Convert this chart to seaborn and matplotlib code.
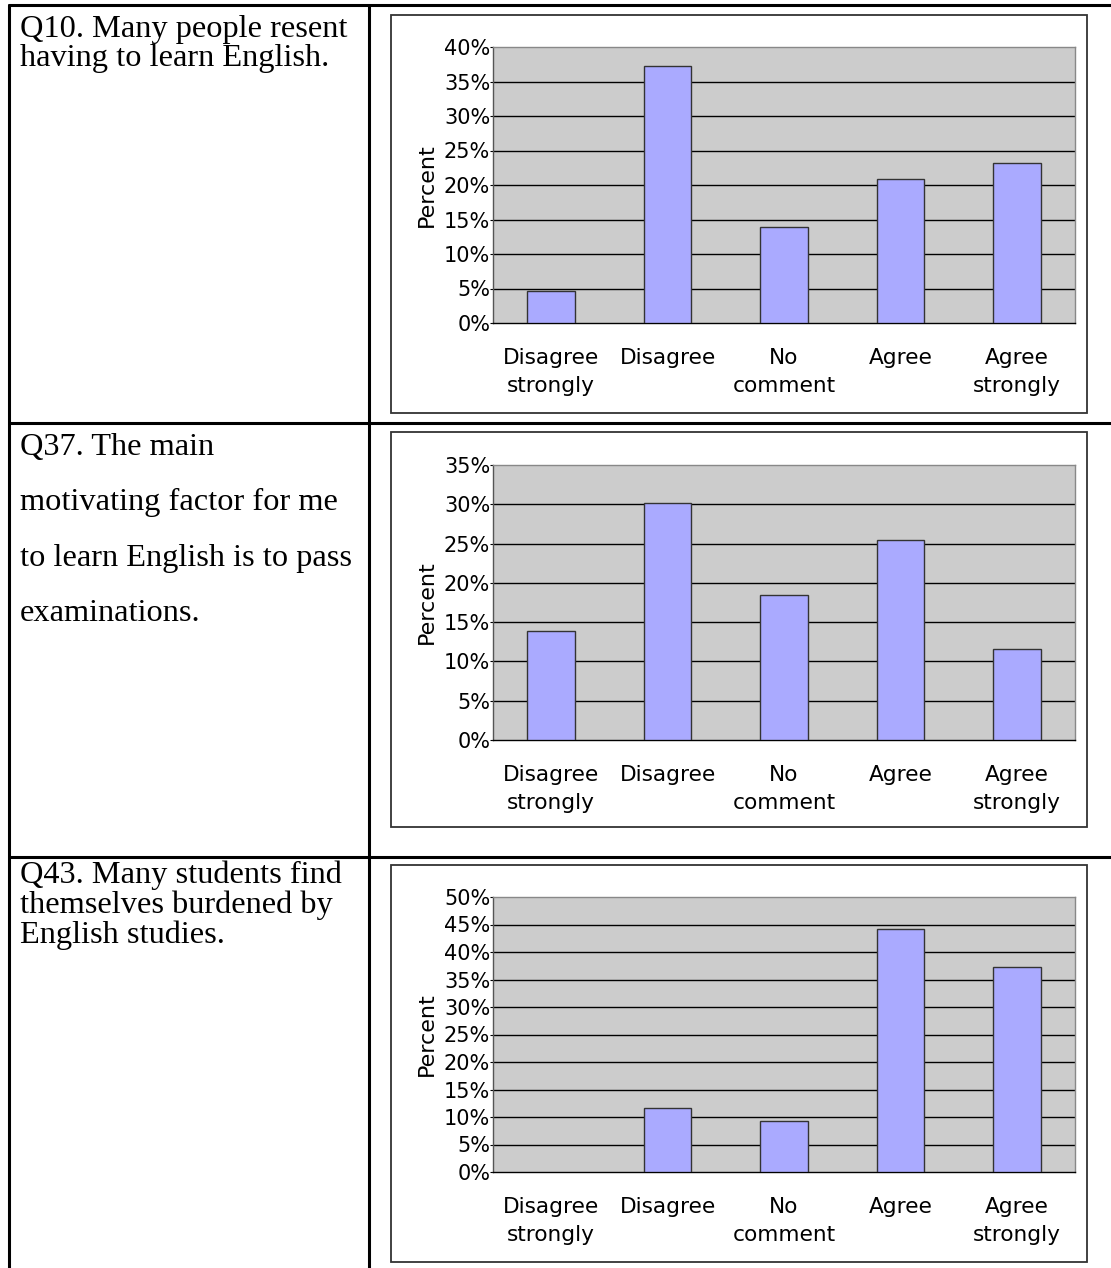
import matplotlib
matplotlib.use("Agg")
import matplotlib.pyplot as plt
from matplotlib.lines import Line2D
from matplotlib.patches import Rectangle
from matplotlib.ticker import FuncFormatter, FixedLocator
import pandas as pd
import seaborn as sns

# survey data (percent)
categories = ["Disagree\nstrongly", "Disagree", "No\ncomment", "Agree", "Agree\nstrongly"]
q10_values = [4.6, 37.2, 13.9, 20.9, 23.2]
q37_values = [13.9, 30.2, 18.5, 25.5, 11.6]
q43_values = [0.0, 11.6, 9.2, 44.1, 37.2]

questions = [
    "Q10. Many people resent\nhaving to learn English.",
    "Q37. The main\nmotivating factor for me\nto learn English is to pass\nexaminations.",
    "Q43. Many students find\nthemselves burdened by\nEnglish studies.",
]
y_max = [40, 35, 50]

sns.set_style("white")
plt.rcParams["font.family"] = ["DejaVu Sans"]
plt.rcParams["text.color"] = "black"
plt.rcParams["xtick.color"] = "black"
plt.rcParams["ytick.color"] = "black"
plt.rcParams["axes.labelcolor"] = "black"

W, H = 1111, 1268
fig = plt.figure(figsize=(W / 100, H / 100), dpi=100)
fig.patch.set_facecolor("white")


def fx(px):
    return px / W


def fy(py):
    return 1 - py / H


# table grid
tbl = dict(color="black", lw=2.2, transform=fig.transFigure)
fig.add_artist(Line2D([fx(9), 1], [fy(5), fy(5)], **tbl))
fig.add_artist(Line2D([fx(9), fx(9)], [fy(5), 0], **tbl))
fig.add_artist(Line2D([fx(369), fx(369)], [fy(5), 0], **tbl))
fig.add_artist(Line2D([fx(9), 1], [fy(423), fy(423)], **tbl))
fig.add_artist(Line2D([fx(9), 1], [fy(857), fy(857)], **tbl))

# question text
serif = dict(family="Liberation Serif", fontsize=23.3, va="top", ha="left", color="black")
fig.text(fx(20), fy(15), questions[0], linespacing=1.0, **serif)
fig.text(fx(20), fy(433), questions[1], linespacing=2.2, **serif)
fig.text(fx(20), fy(861), questions[2], linespacing=1.0, **serif)

boxes = [(15, 413), (432, 827), (865, 1262)]
plots = [(47, 323), (465, 740), (897, 1172)]
all_values = [q10_values, q37_values, q43_values]

for (bt, bb), (pt, pb), vals, ym in zip(boxes, plots, all_values, y_max):
    fig.add_artist(Rectangle((fx(391), fy(bb)), fx(1087) - fx(391), fy(bt) - fy(bb),
                             transform=fig.transFigure, fill=False,
                             edgecolor="#333333", lw=1.3))
    ax = fig.add_axes([fx(493), fy(pb), fx(1075) - fx(493), fy(pt) - fy(pb)])
    df = pd.DataFrame({"answer": categories, "pct": vals})
    sns.barplot(data=df, x="answer", y="pct", ax=ax, color="#AAAAFF",
                saturation=1, width=0.41, edgecolor="#333333", linewidth=1.0, zorder=3)
    for bar in ax.patches:
        if bar.get_height() == 0:
            bar.set_visible(False)
    ax.set_facecolor("#CCCCCC")
    ax.set_ylim(0, ym)
    ax.set_xlim(-0.5, 4.5)
    ax.set_yticks(range(0, ym + 1, 5))
    ax.yaxis.set_major_formatter(FuncFormatter(lambda v, p: f"{int(v)}%"))
    for v in range(5, ym, 5):
        ax.axhline(v, color="black", lw=1.0, zorder=1)
    ax.xaxis.set_minor_locator(FixedLocator([0.5, 1.5, 2.5, 3.5, 4.5]))
    ax.tick_params(axis="x", which="major", length=0, labelsize=15.6, pad=18)
    ax.tick_params(axis="x", which="minor", direction="in", length=6, color="black")
    ax.tick_params(axis="y", direction="out", length=2, labelsize=15, pad=0,
                   left=True)
    ax.set_xlabel("")
    ax.set_ylabel("Percent", fontsize=16, labelpad=5)
    ax.spines["bottom"].set_color("black")
    ax.spines["left"].set_color("#555555")
    ax.spines["top"].set_color("#888888")
    ax.spines["right"].set_color("#888888")
    for s in ax.spines.values():
        s.set_linewidth(1.0)
    for lab in ax.get_xticklabels():
        lab.set_linespacing(1.5)

fig.savefig("out.png", dpi=100, facecolor="white")
